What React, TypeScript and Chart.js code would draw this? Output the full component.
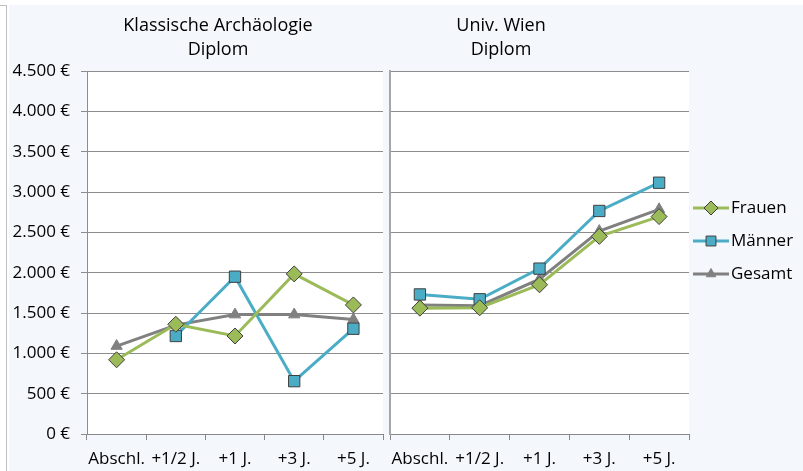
import React, { useEffect, useRef } from 'react';
import { Chart, registerables } from 'chart.js';

Chart.register(...registerables);

const categories = ['Abschl.', '+1/2 J.', '+1 J.', '+3 J.', '+5 J.'];
const seriesLabels = ['Frauen', 'Männer', 'Gesamt'];

const archFrauen = [920, 1360, 1215, 1985, 1600];
const archMaenner = [null, 1215, 1950, 655, 1305];
const archGesamt = [1090, 1350, 1480, 1480, 1420];

const wienFrauen = [1560, 1565, 1850, 2450, 2695];
const wienMaenner = [1730, 1670, 2050, 2765, 3115];
const wienGesamt = [1600, 1590, 1920, 2515, 2785];

const yMin = 0;
const yMax = 4500;
const yStep = 500;

const titleLeft = ['Klassische Archäologie', 'Diplom'];
const titleRight = ['Univ. Wien', 'Diplom'];

const FONT = '"Open Sans", "Noto Sans", sans-serif';
const FONT_SIZE = 17;

const GREEN = '#9BBB59';
const BLUE = '#4BACC6';
const GRAY = '#808080';
const OUTLINE = '#3F3F3F';

const styles = [
  { color: GREEN, pointStyle: 'rectRot', radius: 8, border: OUTLINE },
  { color: BLUE, pointStyle: 'rect', radius: 8, border: OUTLINE },
  { color: GRAY, pointStyle: 'triangle', radius: 6.5, border: GRAY },
];

function fmtEuro(v: number) {
  const s = String(Math.round(v)).replace(/\B(?=(\d{3})+(?!\d))/g, '.');
  return s + ' €';
}

function makeDatasets(values: (number | null)[][]) {
  return values.map((data, i) => ({
    label: seriesLabels[i],
    data,
    borderColor: styles[i].color,
    backgroundColor: styles[i].color,
    borderWidth: 3,
    pointStyle: styles[i].pointStyle,
    pointRadius: styles[i].radius,
    pointHoverRadius: styles[i].radius,
    pointBackgroundColor: styles[i].color,
    pointBorderColor: styles[i].border,
    pointBorderWidth: 1,
    tension: 0,
    spanGaps: false,
  }));
}

function drawMarker(ctx: CanvasRenderingContext2D, style: string, r: number, x: number, y: number) {
  ctx.beginPath();
  if (style === 'rectRot') {
    ctx.moveTo(x - r, y);
    ctx.lineTo(x, y - r);
    ctx.lineTo(x + r, y);
    ctx.lineTo(x, y + r);
  } else if (style === 'rect') {
    const s = Math.SQRT1_2 * r;
    ctx.rect(x - s, y - s, 2 * s, 2 * s);
  } else {
    const h = r * 1.5;
    const w = r * Math.sqrt(3) / 2;
    ctx.moveTo(x, y - r);
    ctx.lineTo(x + w, y - r + h);
    ctx.lineTo(x - w, y - r + h);
  }
  ctx.closePath();
  ctx.fill();
  ctx.stroke();
}

const plotBgPlugin = {
  id: 'plotBg',
  beforeDraw(chart: any) {
    const { ctx, chartArea } = chart;
    ctx.save();
    ctx.fillStyle = '#FFFFFF';
    ctx.fillRect(chartArea.left, chartArea.top, chartArea.right - chartArea.left, chartArea.bottom - chartArea.top);
    ctx.restore();
  },
};

const titlePlugin = {
  id: 'twoLineTitle',
  afterDraw(chart: any, _args: any, opts: any) {
    const { ctx } = chart;
    ctx.save();
    ctx.fillStyle = '#000000';
    ctx.font = `${FONT_SIZE + 1}px ${FONT}`;
    ctx.textAlign = 'center';
    ctx.textBaseline = 'middle';
    (opts.lines || []).forEach((line: string, i: number) => {
      ctx.fillText(line, opts.x, opts.y + i * opts.lineGap);
    });
    ctx.restore();
  },
};

const legendPlugin = {
  id: 'lineLegend',
  afterDraw(chart: any, _args: any, opts: any) {
    if (!opts || !opts.show) return;
    const { ctx } = chart;
    ctx.save();
    chart.data.datasets.forEach((ds: any, i: number) => {
      const y = opts.y + i * opts.gap;
      ctx.strokeStyle = ds.borderColor;
      ctx.lineWidth = 3;
      ctx.beginPath();
      ctx.moveTo(opts.x, y);
      ctx.lineTo(opts.x + opts.lineLen, y);
      ctx.stroke();
      ctx.fillStyle = ds.pointBackgroundColor;
      ctx.strokeStyle = ds.pointBorderColor;
      ctx.lineWidth = 1;
      const r = i === 2 ? 5.5 : 7;
      drawMarker(ctx, ds.pointStyle, r, opts.x + opts.lineLen / 2, y);
      ctx.fillStyle = '#000000';
      ctx.font = `${FONT_SIZE}px ${FONT}`;
      ctx.textAlign = 'left';
      ctx.textBaseline = 'middle';
      ctx.fillText(ds.label, opts.x + opts.lineLen + 2, y);
    });
    ctx.restore();
  },
};

function buildOptions(showYLabels: boolean, padding: any, title: any, legend: any) {
  return {
    responsive: false,
    animation: false,
    events: [],
    layout: { padding, autoPadding: false },
    plugins: {
      legend: { display: false },
      title: { display: false },
      tooltip: { enabled: false },
      twoLineTitle: title,
      lineLegend: legend,
    },
    scales: {
      x: {
        type: 'category',
        offset: true,
        grid: {
          offset: true,
          drawOnChartArea: false,
          drawTicks: true,
          tickLength: 6,
          color: '#888888',
        },
        border: { display: true, color: '#888888', width: 1 },
        ticks: {
          color: '#000000',
          font: { family: FONT, size: FONT_SIZE },
          padding: 9,
          maxRotation: 0,
          autoSkip: false,
        },
        afterFit(scale: any) {
          scale.height = 37;
          scale.paddingLeft = 0;
          scale.paddingRight = 0;
        },
      },
      y: {
        min: yMin,
        max: yMax,
        grid: {
          color: '#8C8C8C',
          lineWidth: 1,
          drawTicks: showYLabels,
          tickLength: 6,
        },
        border: showYLabels
          ? { display: true, color: '#8C8C8C', width: 1 }
          : { display: true, color: '#A6A6A6', width: 2 },
        ticks: {
          display: showYLabels,
          stepSize: yStep,
          color: '#000000',
          font: { family: FONT, size: FONT_SIZE },
          padding: 11,
          callback: (v: any) => fmtEuro(Number(v)),
        },
        afterFit(scale: any) {
          scale.width = showYLabels ? 87 : 0;
          scale.paddingTop = 0;
          scale.paddingBottom = 0;
        },
      },
    },
  };
}

export default function App() {
  const leftRef = useRef<HTMLCanvasElement>(null);
  const rightRef = useRef<HTMLCanvasElement>(null);

  useEffect(() => {
    document.body.style.margin = '0';
    const left = new Chart(leftRef.current as HTMLCanvasElement, {
      type: 'line',
      data: { labels: categories, datasets: makeDatasets([archFrauen, archMaenner, archGesamt]) as any },
      options: buildOptions(true, { left: 0, top: 71, right: 3, bottom: 0 }, { lines: titleLeft, x: 218, y: 26, lineGap: 24 }, { show: false }) as any,
      plugins: [plotBgPlugin, titlePlugin, legendPlugin],
    });
    const right = new Chart(rightRef.current as HTMLCanvasElement, {
      type: 'line',
      data: { labels: categories, datasets: makeDatasets([wienFrauen, wienMaenner, wienGesamt]) as any },
      options: buildOptions(false, { left: 4, top: 71, right: 114, bottom: 0 }, { lines: titleRight, x: 115, y: 26, lineGap: 24 }, { show: true, x: 307, y: 208, gap: 33, lineLen: 36 }) as any,
      plugins: [plotBgPlugin, titlePlugin, legendPlugin],
    });
    return () => {
      left.destroy();
      right.destroy();
    };
  }, []);

  return (
    <div style={{ position: 'absolute', left: 0, top: 0, width: 803, height: 471, background: '#FFFFFF', overflow: 'hidden' }}>
      <div style={{ position: 'absolute', left: 9, top: 5, right: 0, bottom: 0, background: '#F4F7FC' }} />
      <div style={{ position: 'absolute', left: 0, top: 5, width: 6, bottom: 0, borderTop: '1px solid #BFBFBF', borderRight: '1px solid #BFBFBF' }} />
      <canvas ref={leftRef} width={386} height={471} style={{ position: 'absolute', left: 0, top: 0, width: 386, height: 471 }} />
      <canvas ref={rightRef} width={417} height={471} style={{ position: 'absolute', left: 386, top: 0, width: 417, height: 471 }} />
    </div>
  );
}
